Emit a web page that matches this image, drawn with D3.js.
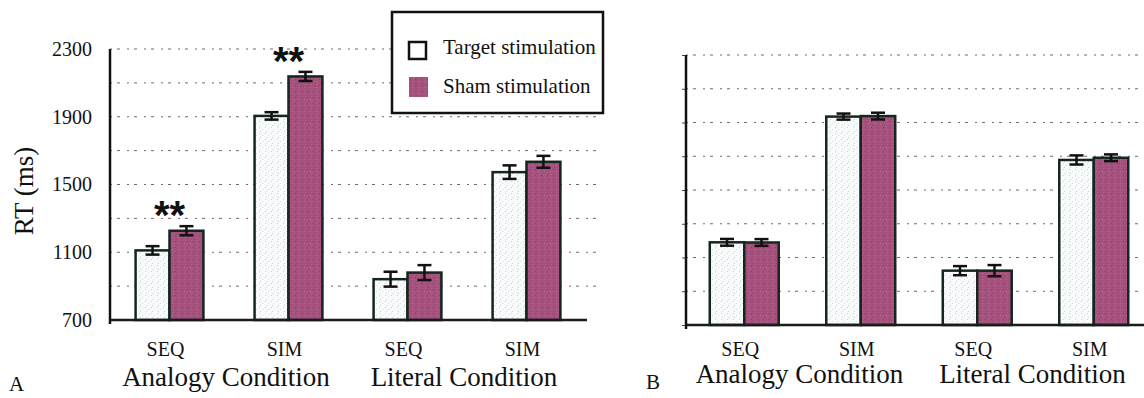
<!DOCTYPE html>
<html>
<head>
<meta charset="utf-8">
<script src="https://cdn.jsdelivr.net/npm/d3@7/dist/d3.min.js"></script>
<style>
  html, body { margin: 0; padding: 0; background: #fff; }
  svg { display: block; }
  svg text { font-family: "Liberation Serif", "Times New Roman", Times, serif !important; fill: #111; }
  svg text.star { font-family: "Liberation Sans", Arial, sans-serif !important; font-weight: bold; }
</style>
</head>
<body>
<svg id="chart" width="1144" height="398"></svg>
<script>
// ---------- data ----------
const categories = ["SEQ", "SIM", "SEQ", "SIM"];
const conditions = ["Analogy Condition", "Literal Condition"];
const seriesNames = ["Target stimulation", "Sham stimulation"];
const yTicks = [700, 1100, 1500, 1900, 2300];
const gridTicks = [900, 1100, 1300, 1500, 1700, 1900, 2100, 2300];

// Panel A
const targetA = [1111, 1905, 941, 1573];
const shamA = [1227, 2138, 980, 1634];
const targetErrA = [25, 22, 44, 40];
const shamErrA = [27, 27, 44, 35];
const starsA = [true, true, false, false];

// Panel B
const targetB = [1190, 1935, 1022, 1678];
const shamB = [1189, 1938, 1022, 1691];
const targetErrB = [20, 18, 27, 27];
const shamErrB = [20, 20, 33, 20];
const starsB = [false, false, false, false];

// ---------- drawing ----------
const svg = d3.select("#chart");
const defs = svg.append("defs");
const SERIF = "'Liberation Serif', 'Times New Roman', Times, serif";

function stipple(id, bg, dots) {
  const p = defs.append("pattern").attr("id", id).attr("patternUnits", "userSpaceOnUse")
    .attr("width", 6).attr("height", 6);
  p.append("rect").attr("width", 6).attr("height", 6).attr("fill", bg);
  dots.forEach(d => p.append("rect").attr("x", d[0]).attr("y", d[1]).attr("width", 1).attr("height", 1).attr("fill", d[2]));
}
stipple("patTarget", "#f8fbfc", [[1,1,"#c3d6dc"],[4,3,"#d4e2e6"],[2,5,"#bfd2d8"]]);
stipple("patSham", "#a5527f", [[1,1,"#8a3c69"],[4,3,"#bd6a97"],[2,5,"#934470"],[5,0,"#b35f8c"],[3,2,"#9a4877"]]);

const fills = ["url(#patTarget)", "url(#patSham)"];

function panel(cfg) {
  const y = d3.scaleLinear().domain([700, 2300]).range([cfg.bottom, cfg.top]);
  const x0 = d3.scaleBand().domain(d3.range(categories.length))
    .range([cfg.left, cfg.right]).paddingInner(cfg.pad).paddingOuter(cfg.pad / 2);
  const x1 = d3.scaleBand().domain([0, 1]).range([0, x0.bandwidth()]);
  const g = svg.append("g");

  g.append("g").selectAll("line").data(gridTicks).join("line")
    .attr("x1", cfg.left).attr("x2", cfg.gridRight)
    .attr("y1", d => y(d)).attr("y2", d => y(d))
    .attr("stroke", "#6d6d6d").attr("stroke-width", 1)
    .attr("stroke-dasharray", "2,5,3,7");

  const vals = [cfg.target, cfg.sham];
  const errs = [cfg.targetErr, cfg.shamErr];
  const rows = [];
  categories.forEach((c, i) => [0, 1].forEach(s => rows.push({i, s, v: vals[s][i], e: errs[s][i]})));

  g.append("g").selectAll("rect").data(rows).join("rect")
    .attr("x", d => x0(d.i) + x1(d.s))
    .attr("width", x1.bandwidth())
    .attr("y", d => y(d.v))
    .attr("height", d => y(700) - y(d.v))
    .attr("fill", d => fills[d.s])
    .attr("stroke", "#16261d").attr("stroke-width", 2.5);

  const eb = g.append("g").attr("stroke", "#111").attr("stroke-width", 2.5);
  rows.forEach(d => {
    const cx = x0(d.i) + x1(d.s) + x1.bandwidth() / 2;
    eb.append("line").attr("x1", cx).attr("x2", cx).attr("y1", y(d.v - d.e)).attr("y2", y(d.v + d.e));
    eb.append("line").attr("x1", cx - 7).attr("x2", cx + 7).attr("y1", y(d.v + d.e)).attr("y2", y(d.v + d.e));
    eb.append("line").attr("x1", cx - 7).attr("x2", cx + 7).attr("y1", y(d.v - d.e)).attr("y2", y(d.v - d.e));
  });

  categories.forEach((c, i) => {
    if (!cfg.stars[i]) return;
    const top = y(cfg.sham[i] + cfg.shamErr[i]);
    g.append("text").attr("class", "star").attr("x", x0(i) + x0.bandwidth() / 2).attr("y", top + 3)
      .attr("text-anchor", "middle").attr("font-size", 40).text("**");
  });

  g.append("line").attr("x1", cfg.left).attr("x2", cfg.right + 1)
    .attr("y1", y(700)).attr("y2", y(700)).attr("stroke", "#1b1b1b").attr("stroke-width", 2.5);

  const ax = d3.axisLeft(y).tickValues(cfg.showLabels ? yTicks : gridTicks.concat([700]))
    .tickSize(cfg.showLabels ? 0 : 4).tickPadding(18).tickFormat(cfg.showLabels ? d3.format("d") : () => "");
  const ag = g.append("g").attr("transform", `translate(${cfg.left},0)`).call(ax);
  ag.attr("font-family", SERIF).attr("font-size", 20);
  ag.select(".domain").remove();
  ag.selectAll("text").attr("fill", "#111");
  ag.selectAll(".tick line").attr("stroke", "#444");
  g.append("line").attr("x1", cfg.left).attr("x2", cfg.left)
    .attr("y1", cfg.top).attr("y2", y(700) + 4).attr("stroke", "#111").attr("stroke-width", 2.5);

  g.append("g").selectAll("text").data(categories).join("text")
    .attr("x", (d, i) => x0(i) + x0.bandwidth() / 2 - 4)
    .attr("y", 356).attr("text-anchor", "middle").attr("font-size", 20).text(d => d);

  g.append("g").selectAll("text").data(conditions).join("text")
    .attr("x", (d, k) => (x0(2 * k) + x0(2 * k + 1) + x0.bandwidth()) / 2 - 3)
    .attr("y", cfg.condY).attr("text-anchor", "middle").attr("font-size", 27).text(d => d);

  svg.append("text").attr("x", cfg.letterX).attr("y", cfg.letterY).attr("font-size", 21).text(cfg.letter);
  return {x0, y};
}

panel({left: 110, right: 586, gridRight: 596, top: 49, bottom: 320, pad: 0.43,
  target: targetA, sham: shamA, targetErr: targetErrA, shamErr: shamErrA, stars: starsA,
  showLabels: true, condY: 386, letter: "A", letterX: 9, letterY: 391});

panel({left: 686, right: 1152, gridRight: 1150, top: 55, bottom: 325, pad: 0.408,
  target: targetB, sham: shamB, targetErr: targetErrB, shamErr: shamErrB, stars: starsB,
  showLabels: false, condY: 383, letter: "B", letterX: 646, letterY: 389});

svg.append("text").attr("transform", "translate(33,191) rotate(-90)")
  .attr("text-anchor", "middle").attr("font-size", 27).text("RT (ms)");

const lg = svg.append("g");
lg.append("rect").attr("x", 392).attr("y", 12).attr("width", 211).attr("height", 101)
  .attr("fill", "#fff").attr("stroke", "#111").attr("stroke-width", 2.5);
lg.append("rect").attr("x", 409).attr("y", 42).attr("width", 17).attr("height", 17)
  .attr("fill", "#fff").attr("stroke", "#111").attr("stroke-width", 2.5);
lg.append("rect").attr("x", 409).attr("y", 77).attr("width", 19).attr("height", 20)
  .attr("fill", "url(#patSham)");
lg.selectAll("text.lt").data(seriesNames).join("text").attr("class", "lt")
  .attr("x", 443).attr("y", (d, i) => i ? 93 : 54).attr("font-size", 21).text(d => d);
</script>
</body>
</html>
